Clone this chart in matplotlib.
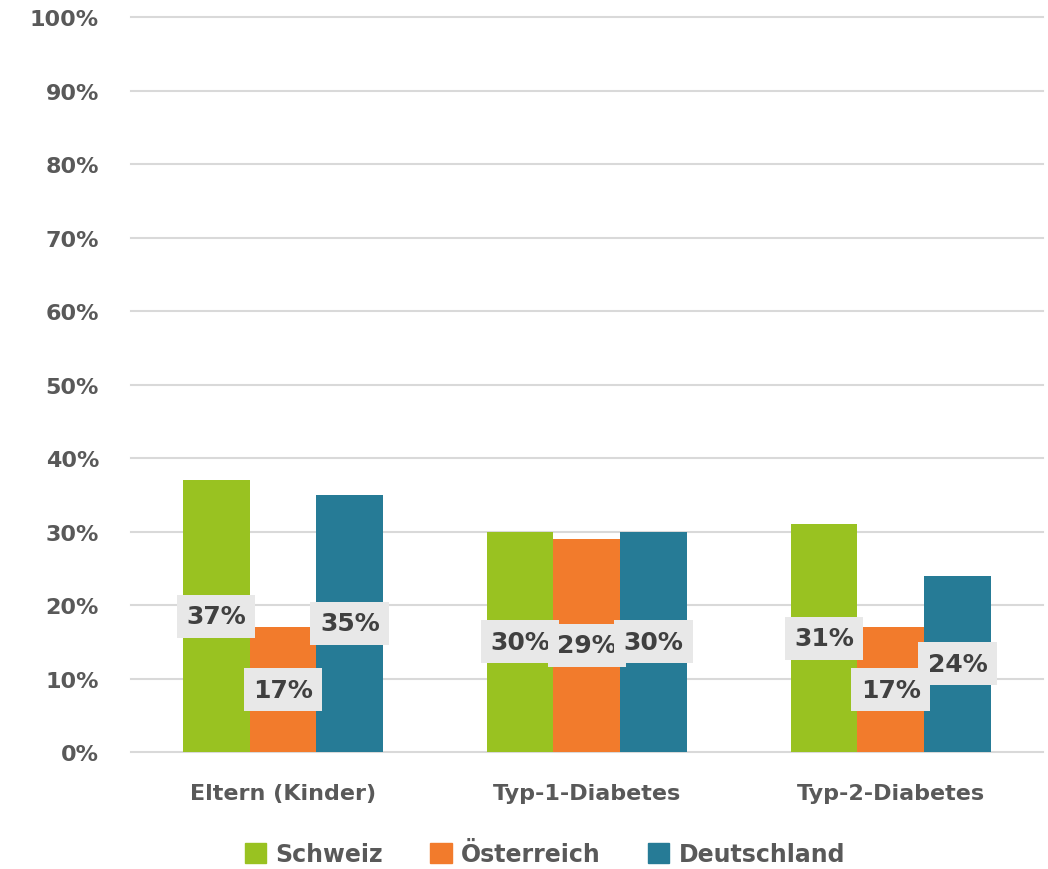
import matplotlib.pyplot as plt
import numpy as np
from matplotlib.patches import Patch

categories = ['Eltern (Kinder)', 'Typ-1-Diabetes', 'Typ-2-Diabetes']
series_names = ['Schweiz', 'Österreich', 'Deutschland']
schweiz = [37, 30, 31]
oesterreich = [17, 29, 17]
deutschland = [35, 30, 24]
colors = ['#99C221', '#F27B2C', '#267B96']

grey = '#595959'
fig = plt.figure(figsize=(10.48, 8.7), dpi=100)
ax = fig.add_axes([0.125, 0.1345, 0.87, 0.8445])

x = np.arange(len(categories))
w = 0.22
all_series = [schweiz, oesterreich, deutschland]
for i, vals in enumerate(all_series):
    pos = x + (i - 1) * w
    ax.bar(pos, vals, width=w, color=colors[i], zorder=3)
    # data labels in the middle of each bar
    for p, v in zip(pos, vals):
        ax.text(p, v / 2, '%d%%' % v, ha='center', va='center', fontsize=18,
                fontweight='bold', color='#404040', zorder=4,
                bbox=dict(boxstyle='square,pad=0.38', fc='#E8E8E8', ec='none'))

ax.set_xlim(-0.5, 2.5)
ax.set_ylim(0, 100)
ax.set_yticks(np.arange(0, 101, 10))
ax.set_yticklabels(['%d%%' % t for t in range(0, 101, 10)])
ax.set_xticks(x)
ax.set_xticklabels(categories)
ax.yaxis.grid(True, color='#D9D9D9', linewidth=1.5, zorder=0)
ax.set_axisbelow(True)
for gl in ax.get_ygridlines():
    gl.set_clip_on(False)
for s in ax.spines.values():
    s.set_visible(False)
ax.tick_params(axis='y', length=0, pad=23, labelsize=16, labelcolor=grey)
ax.tick_params(axis='x', length=0, pad=22, labelsize=16, labelcolor=grey)
for lbl in ax.get_xticklabels() + ax.get_yticklabels():
    lbl.set_fontweight('bold')

handles = [Patch(color=c, label=n) for c, n in zip(colors, series_names)]
leg = fig.legend(handles=handles, loc='center', bbox_to_anchor=(0.52, 1 - 855 / 870),
                 ncol=3, frameon=False, handlelength=0.9, handleheight=0.9,
                 handletextpad=0.4, columnspacing=2.0,
                 prop={'size': 17, 'weight': 'bold'})
for t in leg.get_texts():
    t.set_color(grey)

fig.savefig('out.png', dpi=100)
